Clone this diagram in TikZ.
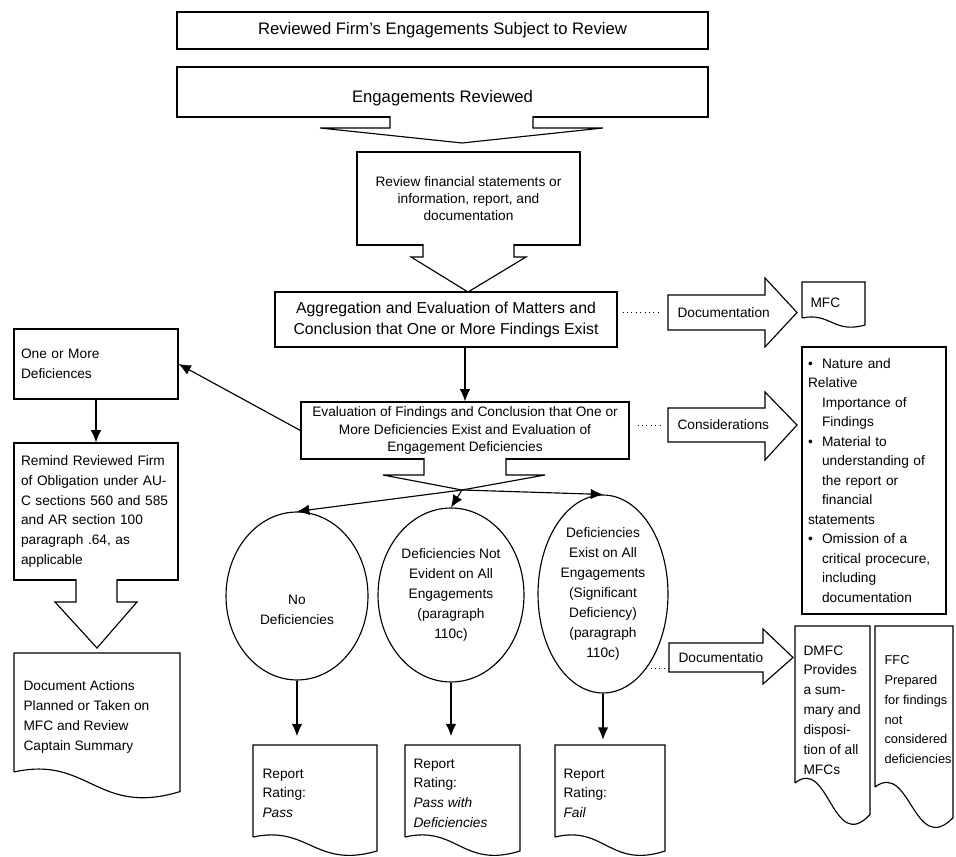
\documentclass[tikz,border=0pt]{standalone}
\usepackage{fontspec}
\setmainfont{Liberation Sans}
\usetikzlibrary{calc,arrows.meta,shapes.geometric}

% document shape: left, top, right, bottom of the left edge, depth of the wave
\newcommand\docshape[5]{%
        \draw (#1,#4) -- (#1,#2) -- (#3,#2) -- (#3,{#4+0.7*#5})
            .. controls ({0.5*(#1+#3)},{#4+1.6*#5}) and ({#1+0.45*(#3-#1)},{#4-0.6*#5}) .. (#1,#4);
}

\tikzset{
        box/.style={draw, rectangle, inner sep=0pt, align=center},
        leftbox/.style={draw, rectangle, inner ysep=0pt, inner xsep=0.14cm, align=left, text width=3cm, minimum width=3.28cm},
        txt/.style={inner sep=0pt, align=left},
        circ/.style={draw, ellipse, inner sep=0pt, align=center},
        arr/.style={-{Latex[length=7pt,width=6pt]}},
        dotline/.style={dotted, line width=0.5pt},
        bigfont/.style={font=\fontsize{9.5}{12}\selectfont},
        midfont/.style={font=\fontsize{9}{12}\selectfont},
        smallfont/.style={font=\fontsize{7.8}{11.3}\selectfont},
        tightfont/.style={font=\fontsize{7.8}{9.8}\selectfont},
        listfont/.style={font=\fontsize{7.8}{11.1}\selectfont}
}

\begin{document}
\begin{tikzpicture}[x=0.02cm, y=-0.02cm, line width=0.65pt, smallfont]
        \useasboundingbox (0,0) rectangle (956,857);

        % main column
        \node[box, bigfont, minimum width=10.62cm, minimum height=0.74cm] (subject) at (442.5,30.5) {Reviewed Firm's Engagements Subject to Review};
        \node[box, bigfont, minimum width=10.62cm, minimum height=1cm, text height=12pt, text depth=0pt] (reviewed) at (442.5,92) {Engagements Reviewed};
        \draw[fill=white] (390,116) -- (390,128) -- (320,128) -- (462,143) -- (603,128) -- (533,128) -- (533,116);

        \node[box, tightfont, minimum width=4.46cm, minimum height=1.86cm] (summary) at (468.5,198.5) {Review financial statements or\\information, report, and\\documentation};
        \draw[fill=white] (423,244) -- (423,257) -- (411,257) -- (468,292) -- (526,257) -- (514,257) -- (514,244);

        \node[box, midfont, minimum width=6.84cm, minimum height=1.1cm] (aggregation) at (446,319.5) {Aggregation and Evaluation of Matters and\\Conclusion that One or More Findings Exist};
        \node[box, tightfont, minimum width=6.56cm, minimum height=1.14cm] (evaluation) at (465,430.5) {Evaluation of Findings and Conclusion that One or\\More Deficiencies Exist and Evaluation of\\Engagement Deficiencies};
        \draw[arr] (aggregation.south -| evaluation.north) -- (evaluation.north);
        \draw[fill=white] (424,458) -- (424,475) -- (383,475) -- (462,490) -- (545,475) -- (506,475) -- (506,458);
        \coordinate (split) at (462,490);

        % the three outcomes
        \node[circ, minimum width=2.84cm, minimum height=3.36cm] (nodef) at (297,596) {};
        \node[txt, align=center] (nodeftext) at (297,610) {No\\Deficiencies};
        \node[circ, minimum width=2.92cm, minimum height=3.48cm] (notall) at (451,595) {Deficiencies Not\\Evident on All\\Engagements\\(paragraph\\110c)};
        \node[circ, minimum width=2.6cm, minimum height=3.96cm] (allexist) at (603,594) {Deficiencies\\Exist on All\\Engagements\\(Significant\\Deficiency)\\(paragraph\\110c)};
        \draw[arr] (split) -- (nodef.north);
        \draw[arr] (split) -- (notall.north);
        \draw[arr] (split) -- (allexist.north);

        \docshape{253}{745}{377}{837}{20}
        \coordinate (passtop) at (315,745);
        \node[txt, anchor=north west] (pass) at (262,768) {Report\\Rating:\\\textit{Pass}};
        \docshape{405}{745}{520}{837}{20}
        \coordinate (pwdtop) at (462,745);
        \node[txt, anchor=north west] (pwd) at (413,758) {Report\\Rating:\\\textit{Pass with}\\\textit{Deficiencies}};
        \docshape{555}{745}{665}{837}{20}
        \coordinate (failtop) at (610,745);
        \node[txt, anchor=north west] (fail) at (563,768) {Report\\Rating:\\\textit{Fail}};
        \draw[arr, shorten >=5pt] (nodef.south) -- (nodef.south |- passtop);
        \draw[arr, shorten >=5pt] (notall.south) -- (notall.south |- pwdtop);
        \draw[arr, shorten >=3pt] (allexist.south) -- (allexist.south |- failtop);

        % left column
        \node[leftbox, minimum height=1.4cm] (ones) at (96,364) {One or More\\Deficiences};
        \node[leftbox, minimum height=2.74cm] (remind) at (96,511.5) {Remind Reviewed Firm\\of Obligation under AU-\\C sections 560 and 585\\and AR section 100\\paragraph .64, as\\applicable};
        \draw[arr] (evaluation.west) -- (ones.east);
        \draw[arr] (ones.south) -- (remind.north);
        \draw[fill=white] (76,579) -- (76,602) -- (55,602) -- (97,648) -- (137,602) -- (117,602) -- (117,579);
        \docshape{14}{653}{180}{772}{28}
        \node[txt, anchor=north west] (actions) at (23,680) {Document Actions\\Planned or Taken on\\MFC and Review\\Captain Summary};

        % right side
        \node[txt, anchor=west, inner xsep=0.18cm] (docarr) at (668,312.5) {Documentation};
        \draw (668,295) -- (765,295) -- (765,278) -- (797,312.5) -- (765,347) -- (765,330) -- (668,330) -- cycle;
        \draw[dotline] ($(docarr.west -| aggregation.east)+(5,0)$) -- ($(docarr.west)+(-10,0)$);
        \docshape{802}{282}{865}{318}{10}
        \node[txt, anchor=west] (mfc) at (810,303) {MFC};

        \node[txt, anchor=west, inner xsep=0.18cm] (consarr) at (668,425) {Considerations};
        \draw (668,408) -- (765,408) -- (765,392) -- (797,425) -- (765,460) -- (765,442) -- (668,442) -- cycle;
        \draw[dotline] ($(consarr.west -| evaluation.east)+(8,0)$) -- ($(consarr.west)+(-6,0)$);
        \node[draw, rectangle, inner xsep=0.12cm, inner ysep=0pt, align=left, text width=2.64cm, minimum height=5.34cm, listfont] (considerlist) at (874,480.5) {\makebox[8pt][l]{•}Nature and\\Relative\\\hspace*{8pt}Importance of\\\hspace*{8pt}Findings\\\makebox[8pt][l]{•}Material to\\\hspace*{8pt}understanding of\\\hspace*{8pt}the report or\\\hspace*{8pt}financial\\statements\\\makebox[8pt][l]{•}Omission of a\\\hspace*{8pt}critical procecure,\\\hspace*{8pt}including\\\hspace*{8pt}documentation};

        \node[txt, anchor=west, inner xsep=0.18cm] (docarr2) at (669,657.5) {Documentatio};
        \draw (669,643) -- (763,643) -- (763,629) -- (793,657.5) -- (763,684) -- (763,672) -- (669,672) -- cycle;
        \draw[dotline] (allexist.-60) -- (allexist.-60 -| docarr2.west);
        \docshape{795}{626}{870}{783}{45}
        \node[txt, anchor=north west] (dmfc) at (803,645) {DMFC\\Provides\\a sum-\\mary and\\disposi-\\tion of all\\MFCs};
        \docshape{875}{626}{953}{787}{44}
        \node[txt, anchor=north west, font=\fontsize{7.3}{11.3}\selectfont] (ffc) at (884,655) {FFC\\Prepared\\for findings\\not\\considered\\deficiencies};
    \end{tikzpicture}
\end{document}
